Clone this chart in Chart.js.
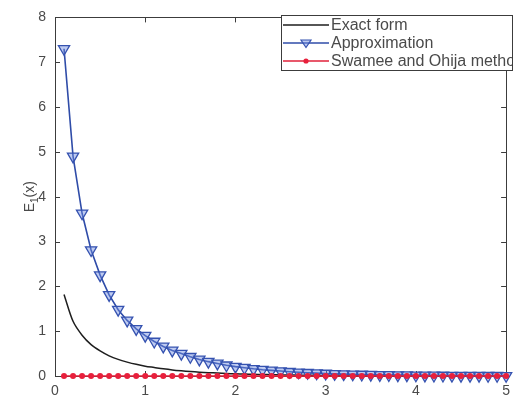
<!DOCTYPE html>
<html>
<head>
<meta charset="utf-8">
<script src="https://cdn.jsdelivr.net/npm/chart.js@4"></script>
<style>
html,body{margin:0;padding:0;background:#fff;}
#wrap{width:517px;height:405px;position:relative;}
</style>
</head>
<body>
<div id="wrap"><canvas id="c" width="517" height="405"></canvas></div>
<script>
const xValues = [0.1,0.2,0.3,0.4,0.5,0.6,0.7,0.8,0.9,1.0,1.1,1.2,1.3,1.4,1.5,1.6,1.7,1.8,1.9,2.0,2.1,2.2,2.3,2.4,2.5,2.6,2.7,2.8,2.9,3.0,3.1,3.2,3.3,3.4,3.5,3.6,3.7,3.8,3.9,4.0,4.1,4.2,4.3,4.4,4.5,4.6,4.7,4.8,4.9,5.0];
const exactForm = [1.82,1.22,0.91,0.70,0.56,0.45,0.37,0.31,0.26,0.22,0.19,0.16,0.135,0.116,0.100,0.086,0.075,0.065,0.056,0.049,0.043,0.037,0.033,0.029,0.025,0.022,0.019,0.017,0.015,0.013,0.012,0.010,0.009,0.008,0.007,0.006,0.0055,0.005,0.0043,0.0038,0.0034,0.003,0.0027,0.0024,0.0021,0.0019,0.0017,0.0015,0.0013,0.0011];
const approximation = [7.30,4.90,3.63,2.81,2.25,1.81,1.48,1.24,1.05,0.90,0.77,0.66,0.57,0.50,0.43,0.37,0.32,0.28,0.24,0.21,0.185,0.16,0.14,0.125,0.11,0.095,0.083,0.073,0.064,0.056,0.049,0.043,0.038,0.034,0.030,0.026,0.023,0.020,0.018,0.016,0.014,0.012,0.011,0.010,0.009,0.008,0.007,0.006,0.0055,0.005];
const swameeOhija = [0,0,0,0,0,0,0,0,0,0,0,0,0,0,0,0,0,0,0,0,0,0,0,0,0,0,0,0,0,0,0,0,0,0,0,0,0,0,0,0,0,0,0,0,0,0,0,0,0,0];
const seriesNames = ['Exact form','Approximation','Swamee and Ohija method'];
const xTicks = [0,1,2,3,4,5];
const yTicks = [0,1,2,3,4,5,6,7,8];

const pts = arr => arr.map((v,i)=>({x:xValues[i], y:v}));
const FONT = '"Liberation Sans", Arial, sans-serif';
const AXIS = '#3c3c3c';
const TXT = '#4a4a4a';

const boxPlugin = {
  id:'box',
  beforeDatasetsDraw(chart){
    const {ctx, chartArea:a, scales:{x,y}} = chart;
    ctx.save();
    ctx.strokeStyle = AXIS; ctx.lineWidth = 1;
    ctx.strokeRect(Math.round(a.left)+0.5, Math.round(a.top)+0.5, Math.round(a.right-a.left), Math.round(a.bottom-a.top));
    const tl = 5;
    ctx.beginPath();
    xTicks.forEach(t=>{
      const px = Math.round(x.getPixelForValue(t))+0.5;
      ctx.moveTo(px,a.bottom); ctx.lineTo(px,a.bottom-tl);
      ctx.moveTo(px,a.top); ctx.lineTo(px,a.top+tl);
    });
    yTicks.forEach(t=>{
      const py = Math.round(y.getPixelForValue(t))+0.5;
      ctx.moveTo(a.left,py); ctx.lineTo(a.left+tl,py);
      ctx.moveTo(a.right,py); ctx.lineTo(a.right-tl,py);
    });
    ctx.stroke();
    // y axis title with subscript
    ctx.translate(30, (a.top+a.bottom)/2);
    ctx.rotate(-Math.PI/2);
    ctx.fillStyle = TXT;
    ctx.textBaseline = 'middle';
    ctx.font = '14px '+FONT;
    const w1 = ctx.measureText('E').width;
    ctx.font = '10px '+FONT;
    const w2 = ctx.measureText('1').width;
    ctx.font = '14px '+FONT;
    const w3 = ctx.measureText('(x)').width;
    let sx = -(w1+w2+w3)/2;
    ctx.textAlign='left';
    ctx.fillText('E', sx, 0); sx += w1;
    ctx.font = '10px '+FONT;
    ctx.fillText('1', sx, 5); sx += w2;
    ctx.font = '14px '+FONT;
    ctx.fillText('(x)', sx, 0);
    ctx.restore();
  },
  afterDraw(chart){
    const {ctx} = chart;
    const L=281, T=15, R=513, B=71;
    ctx.save();
    ctx.fillStyle='#fff';
    ctx.fillRect(L,T,R-L,B-T);
    ctx.strokeStyle = AXIS; ctx.lineWidth=1;
    ctx.strokeRect(L+0.5,T+0.5,R-L-1,B-T-1);
    ctx.beginPath(); ctx.rect(L+1,T+1,R-L-2,B-T-2); ctx.clip();
    const rows=[25,43,61];
    chart.data.datasets.forEach((ds,i)=>{
      const yy = rows[i];
      ctx.strokeStyle = ds.borderColor; ctx.lineWidth = ds.borderWidth;
      ctx.beginPath(); ctx.moveTo(283,yy); ctx.lineTo(329,yy); ctx.stroke();
      const mx = 306;
      if(ds.pointStyle==='triangle'){
        const r=5;
        ctx.fillStyle = ds.pointBackgroundColor; ctx.strokeStyle = ds.pointBorderColor; ctx.lineWidth=1.2;
        ctx.beginPath(); ctx.moveTo(mx-r,yy-r*0.6); ctx.lineTo(mx+r,yy-r*0.6); ctx.lineTo(mx,yy+r*0.9); ctx.closePath(); ctx.fill(); ctx.stroke();
      } else if(ds.pointStyle==='circle' && ds.pointRadius>0){
        ctx.fillStyle = ds.pointBackgroundColor;
        ctx.beginPath(); ctx.arc(mx,yy,2.6,0,Math.PI*2); ctx.fill();
      }
      ctx.fillStyle = TXT; ctx.font = '16px '+FONT; ctx.textBaseline='middle'; ctx.textAlign='left';
      ctx.fillText(ds.label, 331, yy+1);
    });
    ctx.restore();
  }
};

new Chart(document.getElementById('c'), {
  type:'line',
  data:{
    datasets:[
      {label:seriesNames[0], data:pts(exactForm), borderColor:'#1e1e1e', borderWidth:1.5, pointRadius:0, pointStyle:false, tension:0.3, clip:false, order:3},
      {label:seriesNames[1], data:pts(approximation), borderColor:'#2f4ca8', borderWidth:1.6, pointStyle:'triangle', rotation:180, pointRadius:6.5, pointBackgroundColor:'rgba(110,140,225,0.45)', pointBorderColor:'#3552b0', pointBorderWidth:1.3, clip:false, order:2},
      {label:seriesNames[2], data:pts(swameeOhija), borderColor:'#e0203a', borderWidth:1.6, pointStyle:'circle', pointRadius:3, pointBackgroundColor:'#e8203c', pointBorderColor:'#e8203c', pointBorderWidth:0, clip:false, order:1}
    ]
  },
  options:{
    responsive:false, animation:false,
    layout:{padding:{top:16, right:5, left:0, bottom:0}},
    plugins:{legend:{display:false}, tooltip:{enabled:false}},
    scales:{
      x:{type:'linear', min:0, max:5,
        afterBuildTicks: s => { s.ticks = xTicks.map(v=>({value:v})); },
        afterFit: s => { s.height = 29; },
        grid:{display:false, drawTicks:false}, border:{display:false},
        ticks:{color:TXT, font:{family:FONT, size:14}, padding:7, maxRotation:0}
      },
      y:{type:'linear', min:0, max:8,
        afterBuildTicks: s => { s.ticks = yTicks.map(v=>({value:v})); },
        afterFit: s => { s.width = 55; },
        grid:{display:false, drawTicks:false}, border:{display:false},
        ticks:{color:TXT, font:{family:FONT, size:14}, padding:9}
      }
    }
  },
  plugins:[boxPlugin]
});
</script>
</body>
</html>
